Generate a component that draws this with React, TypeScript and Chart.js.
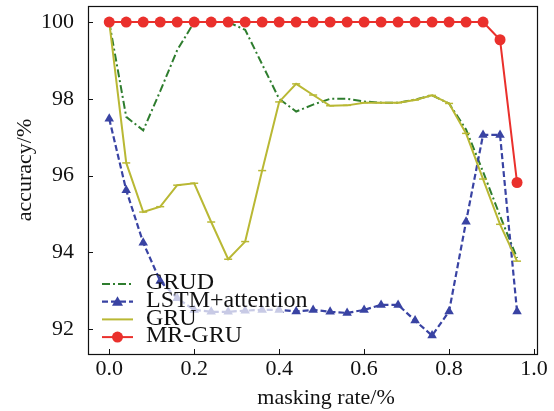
import React, { useEffect, useRef } from "react";
import { Chart, registerables } from "chart.js";

Chart.register(...registerables);

const maskingRates = [0, 0.04, 0.08, 0.12, 0.16, 0.2, 0.24, 0.28, 0.32, 0.36, 0.4, 0.44, 0.48, 0.52, 0.56, 0.6, 0.64, 0.68, 0.72, 0.76, 0.8, 0.84, 0.88, 0.92, 0.96];

const grudAcc = [100, 97.53, 97.18, 98.2, 99.27, 100, 100, 100, 99.8, 98.9, 98.0, 97.67, 97.85, 98.0, 98.0, 97.93, 97.9, 97.9, 97.98, 98.09, 97.88, 97.2, 96.1, 94.95, 93.85];
const lstmAttAcc = [97.48, 95.62, 94.25, 93.25, 92.8, 92.5, 92.45, 92.45, 92.48, 92.5, 92.5, 92.46, 92.5, 92.45, 92.42, 92.5, 92.63, 92.63, 92.22, 91.83, 92.46, 94.8, 97.06, 97.06, 92.46];
const gruAcc = [100, 96.33, 95.05, 95.19, 95.75, 95.8, 94.79, 93.82, 94.28, 96.13, 97.92, 98.39, 98.1, 97.82, 97.83, 97.9, 97.9, 97.9, 97.97, 98.09, 97.88, 97.1, 95.91, 94.73, 93.77];
const mrGruAcc = [100, 100, 100, 100, 100, 100, 100, 100, 100, 100, 100, 100, 100, 100, 100, 100, 100, 100, 100, 100, 100, 100, 100, 99.54, 95.82];

const seriesNames = ["GRUD", "LSTM+attention", "GRU", "MR-GRU"];
const xTitle = "masking rate/%";
const yTitle = "accuracy/%";

const COLORS = {
  grud: "#2e7d2e",
  lstm: "#3943a3",
  gru: "#b9b834",
  mr: "#ea302c",
};

const FONT = '"Liberation Serif", "Times New Roman", serif';

function pts(values: number[]) {
  return maskingRates.map((x, i) => ({ x, y: values[i] }));
}

export default function App() {
  const canvasRef = useRef<HTMLCanvasElement | null>(null);

  useEffect(() => {
    if (!canvasRef.current) return;

    const legendItems = [
      { label: seriesNames[0], color: COLORS.grud, dash: [8, 3, 2, 3], marker: null as null | string, width: 2 },
      { label: seriesNames[1], color: COLORS.lstm, dash: [6, 3], marker: "triangle", width: 2.2 },
      { label: seriesNames[2], color: COLORS.gru, dash: [], marker: null, width: 2 },
      { label: seriesNames[3], color: COLORS.mr, dash: [], marker: "circle", width: 2 },
    ];

    const decor = {
      id: "decor",
      afterDatasetsDraw(chart: any) {
        const ctx = chart.ctx as CanvasRenderingContext2D;
        ctx.save();
        ctx.fillStyle = "rgba(255,255,255,0.72)";
        ctx.fillRect(96, 287, 187, 59);
        const baseY = 284;
        const step = 17.7;
        legendItems.forEach((it, i) => {
          const y = baseY + i * step;
          ctx.strokeStyle = it.color;
          ctx.lineWidth = it.width;
          ctx.setLineDash(it.dash);
          ctx.beginPath();
          ctx.moveTo(102, y);
          ctx.lineTo(133, y);
          ctx.stroke();
          ctx.setLineDash([]);
          ctx.fillStyle = it.color;
          if (it.marker === "circle") {
            ctx.beginPath();
            ctx.arc(117.5, y, 5.5, 0, Math.PI * 2);
            ctx.fill();
          } else if (it.marker === "triangle") {
            ctx.beginPath();
            ctx.moveTo(117.5, y - 5.5);
            ctx.lineTo(123, y + 4);
            ctx.lineTo(112, y + 4);
            ctx.closePath();
            ctx.fill();
          }
          ctx.fillStyle = "#111";
          ctx.font = `24px ${FONT}`;
          ctx.textBaseline = "middle";
          ctx.textAlign = "left";
          ctx.fillText(it.label, 146, y - 1);
        });
        ctx.restore();
      },
      afterDraw(chart: any) {
        const ctx = chart.ctx as CanvasRenderingContext2D;
        const ca = chart.chartArea;
        const xs = chart.scales.x;
        const ys = chart.scales.y;
        ctx.save();
        ctx.strokeStyle = "#111";
        ctx.lineWidth = 1.2;
        ctx.strokeRect(Math.round(ca.left) + 0.5, Math.round(ca.top) + 0.5, Math.round(ca.right - ca.left), Math.round(ca.bottom - ca.top));
        ctx.lineWidth = 1;
        ys.ticks.forEach((t: any) => {
          const y = Math.round(ys.getPixelForValue(t.value)) + 0.5;
          ctx.beginPath();
          ctx.moveTo(ca.left, y);
          ctx.lineTo(ca.left + 5, y);
          ctx.stroke();
        });
        xs.ticks.forEach((t: any) => {
          const x = Math.round(xs.getPixelForValue(t.value)) + 0.5;
          ctx.beginPath();
          ctx.moveTo(x, ca.bottom);
          ctx.lineTo(x, ca.bottom - 5);
          ctx.stroke();
        });
        ctx.fillStyle = "#111";
        ctx.font = `22px ${FONT}`;
        ctx.textAlign = "center";
        ctx.textBaseline = "middle";
        ctx.fillText(xTitle, 326, 398);
        ctx.translate(25, 170);
        ctx.rotate(-Math.PI / 2);
        ctx.fillText(yTitle, 0, 0);
        ctx.restore();
      },
    };

    const chart = new Chart(canvasRef.current, {
      type: "line",
      data: {
        datasets: [
          {
            label: seriesNames[3],
            data: pts(mrGruAcc),
            borderColor: COLORS.mr,
            backgroundColor: COLORS.mr,
            borderWidth: 2,
            pointStyle: "circle",
            pointRadius: 5.5,
            pointBorderWidth: 0,
            tension: 0,
            order: 0,
          },
          {
            label: seriesNames[2],
            data: pts(gruAcc),
            borderColor: COLORS.gru,
            backgroundColor: COLORS.gru,
            borderWidth: 2,
            pointStyle: "line",
            pointRadius: 4,
            pointBorderWidth: 1.5,
            pointBorderColor: COLORS.gru,
            tension: 0,
            order: 1,
          },
          {
            label: seriesNames[1],
            data: pts(lstmAttAcc),
            borderColor: COLORS.lstm,
            backgroundColor: COLORS.lstm,
            borderWidth: 2.2,
            borderDash: [6, 3],
            pointStyle: "triangle",
            pointRadius: 5.5,
            pointBorderWidth: 0,
            tension: 0,
            order: 2,
          },
          {
            label: seriesNames[0],
            data: pts(grudAcc),
            borderColor: COLORS.grud,
            backgroundColor: COLORS.grud,
            borderWidth: 2,
            borderDash: [8, 3, 2, 3],
            pointRadius: 0,
            tension: 0,
            order: 3,
          },
        ],
      },
      options: {
        animation: false,
        responsive: true,
        maintainAspectRatio: false,
        layout: { padding: { left: 0, right: 17, top: 6, bottom: 0 } },
        plugins: {
          legend: { display: false },
          tooltip: { enabled: false },
          title: { display: false },
        },
        scales: {
          x: {
            type: "linear",
            min: -0.05,
            max: 1.007,
            afterFit: (s: any) => {
              s.height = 57;
              s.paddingLeft = 0;
              s.paddingRight = 0;
            },
            grid: { display: false, drawTicks: false },
            border: { display: false },
            ticks: {
              stepSize: 0.2,
              includeBounds: false,
              padding: 2,
              color: "#111",
              font: { family: FONT, size: 22 },
              maxRotation: 0,
              callback: (v: any) => Number(v).toFixed(1),
            },
          },
          y: {
            type: "linear",
            min: 91.35,
            max: 100.42,
            afterFit: (s: any) => {
              s.width = 88;
              s.paddingTop = 0;
              s.paddingBottom = 0;
            },
            grid: { display: false, drawTicks: false },
            border: { display: false },
            ticks: {
              stepSize: 2,
              includeBounds: false,
              padding: 14,
              color: "#111",
              font: { family: FONT, size: 22 },
              callback: (v: any) => String(Math.round(Number(v))),
            },
          },
        },
      },
      plugins: [decor],
    });

    return () => chart.destroy();
  }, []);

  return (
    <div style={{ position: "absolute", left: 0, top: 0, width: 554, height: 411, background: "#fff" }}>
      <canvas ref={canvasRef} />
    </div>
  );
}
